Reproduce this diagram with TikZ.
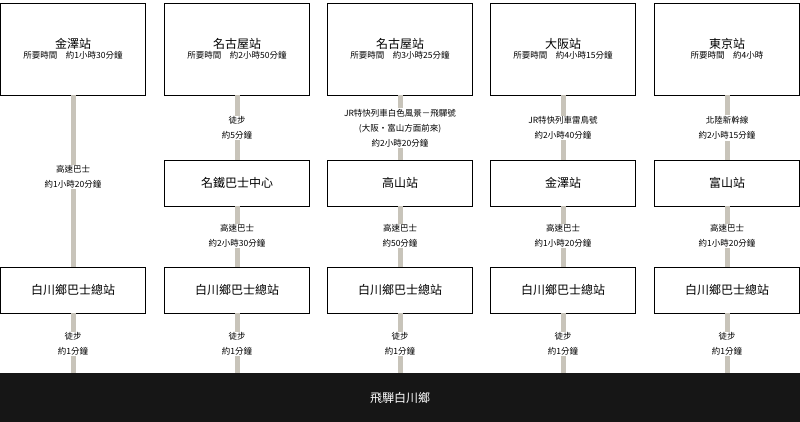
\documentclass[tikz,border=0pt]{standalone}
\usepackage{fontspec}
\setmainfont{Noto Sans CJK TC}
\definecolor{linegray}{RGB}{200,196,186}
\definecolor{band}{RGB}{22,22,22}
\tikzset{
  topbox/.style={draw=black,thick,minimum width=145pt,minimum height=92pt,align=center,inner sep=0pt},
  stopbox/.style={draw=black,thick,minimum width=145pt,minimum height=46pt,font=\fontsize{12}{14}\selectfont},
  route/.style={fill=white,align=center,inner sep=1pt,font=\fontsize{8.5}{15}\selectfont},
  track/.style={linegray,line width=5pt}
}
\begin{document}
\begin{tikzpicture}[x=1pt,y=-1pt]
    \useasboundingbox (0,0) rectangle (800,422);

    % 底部
    \fill[band] (0,373) rectangle (800,422);
    \node[white,font=\fontsize{12}{14}\selectfont] (goal) at (400,398) {飛騨白川鄉};

    % 出發站
    \node[topbox] (kanazawa) at (73,49) {{\fontsize{12}{16}\selectfont 金澤站}\\[-2pt]{\fontsize{8.5}{12}\selectfont 所要時間\quad 約1小時30分鐘}};
    \node[topbox] (nagoyaA) at (237,49) {{\fontsize{12}{16}\selectfont 名古屋站}\\[-2pt]{\fontsize{8.5}{12}\selectfont 所要時間\quad 約2小時50分鐘}};
    \node[topbox] (nagoyaB) at (400,49) {{\fontsize{12}{16}\selectfont 名古屋站}\\[-2pt]{\fontsize{8.5}{12}\selectfont 所要時間\quad 約3小時25分鐘}};
    \node[topbox] (osaka) at (563,49) {{\fontsize{12}{16}\selectfont 大阪站}\\[-2pt]{\fontsize{8.5}{12}\selectfont 所要時間\quad 約4小時15分鐘}};
    \node[topbox] (tokyo) at (727,49) {{\fontsize{12}{16}\selectfont 東京站}\\[-2pt]{\fontsize{8.5}{12}\selectfont 所要時間\quad 約4小時}};

    % 中繼站
    \node[stopbox] (meitetsu) at (237,183) {名鐵巴士中心};
    \node[stopbox] (takayama) at (400,183) {高山站};
    \node[stopbox] (kanazawaB) at (563,183) {金澤站};
    \node[stopbox] (toyama) at (727,183) {富山站};

    % 白川鄉巴士總站
    \node[stopbox] (bus1) at (73,290) {白川鄉巴士總站};
    \node[stopbox] (bus2) at (237,290) {白川鄉巴士總站};
    \node[stopbox] (bus3) at (400,290) {白川鄉巴士總站};
    \node[stopbox] (bus4) at (563,290) {白川鄉巴士總站};
    \node[stopbox] (bus5) at (727,290) {白川鄉巴士總站};

    % 連線
    \draw[track] (kanazawa) -- (bus1);
    \draw[track] (nagoyaA) -- (meitetsu);
    \draw[track] (meitetsu) -- (bus2);
    \draw[track] (nagoyaB) -- (takayama);
    \draw[track] (takayama) -- (bus3);
    \draw[track] (osaka) -- (kanazawaB);
    \draw[track] (kanazawaB) -- (bus4);
    \draw[track] (tokyo) -- (toyama);
    \draw[track] (toyama) -- (bus5);
    \foreach \b in {bus1,bus2,bus3,bus4,bus5}
        \draw[track] (\b.south) -- (\b.south |- 0,373);

    % 路線說明
    \node[route] at (73,177) {高速巴士\\約1小時20分鐘};
    \node[route] at (237,128) {徒步\\約5分鐘};
    \node[route] at (400,128) {JR特快列車白色風景－飛驒號\\(大阪・富山方面前來)\\約2小時20分鐘};
    \node[route] at (563,128) {JR特快列車雷鳥號\\約2小時40分鐘};
    \node[route] at (727,128) {北陸新幹線\\約2小時15分鐘};
    \foreach \x in {237,400,563,727}
        \node[route] at (\x,236) {高速巴士\\約\ifnum\x=237 2小時30\else\ifnum\x=400 50\else 1小時20\fi\fi 分鐘};
    \foreach \x in {73,237,400,563,727}
        \node[route] at (\x,344) {徒步\\約1分鐘};

\end{tikzpicture}
\end{document}
